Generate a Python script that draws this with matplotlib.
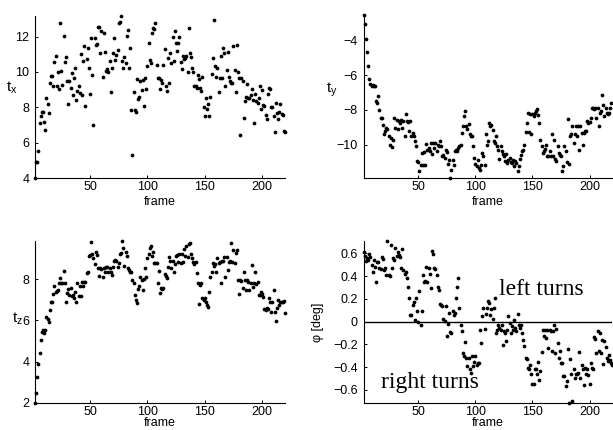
import numpy as np
import matplotlib
matplotlib.use('Agg')
import matplotlib.pyplot as plt
from matplotlib.ticker import FuncFormatter

plt.rcParams['font.family'] = ['Liberation Sans', 'DejaVu Sans']
plt.rcParams['font.size'] = 9
plt.rcParams['axes.unicode_minus'] = True

# translation / rotation estimates per frame
tx = [4.0, 4.9, 4.9, 5.54, 7.1, 7.48, 7.71, 7.71, 7.16, 6.73,
      8.55, 8.18, 7.67, 9.36, 9.78, 9.78, 9.18, 10.59, 10.93, 9.21,
      10.02, 9.04, 12.79, 10.08, 9.27, 12.06, 10.59, 10.87, 9.51, 8.2,
      9.46, 9.08, 9.93, 8.7, 9.65, 10.21, 8.42, 8.95, 9.23, 8.8,
      11.02, 8.7, 10.63, 11.44, 8.08, 10.72, 11.38, 10.21, 8.74, 11.91,
      9.83, 7.0, 11.91, 11.53, 11.57, 12.53, 12.56, 11.06, 12.34, 9.74,
      12.19, 11.15, 10.06, 10.17, 10.02, 10.63, 8.89, 10.21, 11.06, 11.91,
      10.68, 10.96, 11.25, 12.79, 12.85, 13.17, 10.63, 10.21, 10.87, 10.49, 12.06,
      12.38, 10.21, 11.34, 7.86, 5.31, 8.89, 7.86, 7.73, 9.59, 8.46,
      8.61, 9.46, 8.99, 9.55, 8.08, 9.65, 9.02, 10.31, 11.66, 10.68,
      10.53, 12.19, 12.51, 12.41, 12.79, 10.4, 9.68, 9.68, 9.02, 9.55,
      9.36, 10.4, 11.28, 9.21, 8.93, 10.78, 9.4, 11.06, 10.49, 12.0,
      10.63, 12.32, 11.66, 11.21, 11.62, 12.0, 10.59, 10.17, 10.91, 10.72,
      10.78, 10.91, 10.02, 12.47, 11.06, 10.87, 10.2, 9.97, 9.21, 9.18, 9.12, 9.83, 9.6,
      9.12, 8.93, 9.7, 8.04, 7.48, 8.55, 7.89, 8.2, 7.48,
      8.61, 9.89, 10.81, 12.94, 10.34, 9.74, 10.21, 8.84, 9.65, 10.91,
      9.68, 11.34, 11.06, 9.21, 10.12, 11.11, 9.7, 9.46, 9.4, 9.4,
      11.44, 10.12, 8.84, 11.53, 10.0, 9.68, 6.44, 9.65, 9.46, 7.39, 8.37,
      8.61, 9.31, 8.52, 8.55, 8.67, 9.02, 8.42, 7.14, 8.74, 8.33,
      8.27, 8.5, 9.21, 7.91, 8.99, 8.14, 8.08, 7.57, 7.35, 8.76, 9.12,
      9.02, 7.99, 7.99, 7.48, 6.58, 8.27, 7.67, 7.35, 7.71, 8.18,
      7.61, 7.54, 6.67, 6.6]

ty = [-2.51, -3.07, -3.94, -4.68, -5.45, -6.22, -6.51, -6.65, -6.57, -6.6, -6.65,
      -7.48, -7.58, -7.19, -8.0, -8.45, -8.45, -8.89, -9.38, -9.22, -9.03,
      -9.09, -9.51, -10.05, -9.61, -10.15, -9.71, -8.49, -9.03, -8.58, -9.13,
      -8.64, -8.74, -8.58, -9.03, -8.64, -9.51, -8.26, -8.64, -8.7, -9.22,
      -8.64, -9.51, -9.36, -9.51, -9.8, -10.09, -10.96, -11.0, -11.54, -11.2, -10.48,
      -11.16, -10.44, -11.16, -9.94, -10.29, -10.19, -10.38, -9.9, -10.52, -9.9,
      -10.19, -9.9, -10.38, -10.0, -10.09, -9.8, -10.09, -10.67, -10.58, -10.77,
      -10.33, -10.44, -11.1, -10.87, -11.93, -11.49, -10.91, -11.16, -10.38, -10.29,
      -10.38, -10.19, -10.09, -10.05, -9.32, -8.93, -8.35, -8.06, -8.93, -9.13,
      -8.84, -9.42, -9.51, -9.51, -10.09, -10.77, -11.1, -11.21, -10.87, -11.35,
      -11.49, -11.16, -10.48, -10.67, -11.16, -9.42, -10.05, -9.8, -8.74, -8.93,
      -8.89, -9.16, -9.8, -9.9, -9.51, -10.09, -10.29, -10.83, -10.09, -10.38,
      -10.52, -10.67, -10.96, -10.52, -11.06, -10.87, -10.77, -11.02, -11.06, -10.87,
      -11.25, -10.96, -11.06, -11.54, -11.25, -10.83, -10.63, -10.38, -10.29, -10.0,
      -9.28, -8.74, -8.2, -9.28, -8.26, -9.42, -8.26, -8.35, -8.16, -8.06,
      -7.93, -8.3, -8.74, -9.74, -10.09, -10.48, -10.38, -10.25, -10.0, -10.67, -10.67,
      -10.38, -10.67, -9.42, -10.67, -9.74, -10.83, -10.96, -10.09, -10.48, -10.58,
      -10.67, -11.54, -11.25, -10.09, -10.38, -11.02, -8.55, -11.1, -9.51, -9.42,
      -8.93, -9.9, -9.42, -8.93, -9.51, -8.93, -10.29, -8.93, -9.32, -10.0,
      -9.32, -9.22, -9.22, -8.64, -8.74, -8.7, -8.45, -7.87, -7.87, -7.97,
      -7.87, -8.45, -7.87, -8.93, -8.16, -8.06, -7.15, -7.73, -8.35, -7.87,
      -8.16, -8.26, -8.16, -7.9, -7.58]

tz = [2.0, 2.46, 3.24, 3.87, 4.4, 5.05, 5.46, 5.54, 5.37, 5.54,
      6.18, 6.07, 5.94, 6.51, 6.88, 6.91, 7.27, 7.69, 7.37, 7.43,
      7.48, 7.81, 8.08, 7.81, 7.81, 8.41, 7.81, 6.88, 7.32, 7.53,
      7.24, 7.56, 7.19, 7.24, 7.11, 7.37, 6.88, 7.81, 7.19, 7.69,
      7.19, 7.89, 7.69, 7.89, 7.89, 8.29, 8.34, 9.15, 9.18, 9.8,
      9.22, 9.05, 8.73, 9.31, 9.18, 8.53, 8.18, 8.53, 8.5, 8.13,
      8.53, 8.34, 8.62, 8.62, 8.34, 8.57, 8.34, 8.21, 8.62, 8.89,
      8.94, 8.89, 8.62, 8.78, 9.22, 9.26, 9.86, 9.54, 8.66, 9.35,
      9.15, 8.53, 8.45, 8.34, 8.34, 7.97, 7.81, 7.24, 7.0, 6.83,
      7.53, 7.69, 8.13, 7.97, 7.48, 8.02, 8.57, 8.13, 9.05, 9.22,
      9.51, 9.64, 9.15, 9.31, 8.78, 8.78, 8.78, 7.81, 8.41, 7.32,
      7.56, 7.53, 7.6, 8.24, 8.18, 8.08, 8.62, 9.1, 8.89, 8.53,
      8.89, 8.34, 8.73, 9.15, 9.18, 8.86, 9.22, 8.78, 9.22, 8.86,
      9.47, 9.15, 9.64, 9.1, 9.7, 9.75, 9.22, 9.05, 8.86, 8.73,
      8.83, 8.29, 7.81, 6.78, 7.72, 7.81, 7.11, 7.0, 7.11, 6.88,
      6.75, 6.67, 7.37, 8.13, 8.37, 8.78, 8.66, 8.73, 8.37, 9.05,
      8.78, 8.86, 7.81, 8.89, 8.89, 9.1, 8.13, 9.1, 8.45, 8.86,
      8.89, 9.75, 8.86, 9.43, 8.78, 9.26, 9.43, 7.97, 7.27, 7.97,
      7.92, 7.56, 8.37, 7.97, 7.48, 7.97, 7.89, 7.48, 7.81, 8.7,
      7.64, 7.81, 8.34, 7.76, 7.89, 7.24, 7.24, 7.37, 7.27, 7.16,
      6.56, 6.51, 6.59, 6.56, 7.11, 6.88, 6.43, 6.88, 7.48, 6.43,
      5.97, 6.62, 7.0, 6.75, 6.88, 6.88, 6.91, 6.94, 6.38]

phi = [0.615, 0.58, 0.533, 0.556, 0.542, 0.591, 0.571, 0.498,
       0.44, 0.542, 0.483, 0.352, 0.521, 0.527, 0.469, 0.463, 0.571, 0.55,
       0.454, 0.469, 0.41, 0.708, 0.41, 0.402, 0.673, 0.469, 0.562, 0.542,
       0.644, 0.58, 0.615, 0.585, 0.571, 0.475, 0.635, 0.454, 0.416, 0.434,
       0.387, 0.308, 0.206, 0.061, 0.061, 0.148, 0.171, 0.017, 0.206,
       0.09, -0.003, 0.265, -0.027, 0.09, 0.41, 0.352, 0.358, 0.483, 0.346,
       0.469, 0.416, 0.294, 0.62, 0.591, 0.469, 0.463, 0.41, 0.3, 0.279,
       0.154, 0.148, 0.134, 0.026, 0.008, 0.134, -0.129, -0.021, 0.075, -0.091,
       -0.1, 0.096, 0.061, 0.075, 0.206, 0.308, 0.387, 0.119, -0.027, -0.079,
       -0.275, -0.304, -0.181, -0.318, -0.391, -0.318, -0.412, -0.45, -0.304, -0.391,
       -0.353, -0.304, -0.377, -0.362, -0.362, -0.071, -0.187, 0.046, 0.119, -0.062,
       0.066, 0.119, 0.177, 0.163, 0.061, 0.113, 0.026, 0.119, 0.206, -0.1,
       -0.071, -0.027, -0.056, -0.071, -0.027, -0.208, -0.085, -0.1, -0.167, -0.071,
       0.046, -0.012, -0.1, -0.041, -0.071, 0.017, -0.056, -0.085, 0.066, -0.027,
       -0.056, -0.027, -0.1, -0.158, -0.216, -0.318, -0.324, -0.406, -0.412, -0.377,
       -0.464, -0.552, -0.552, -0.412, -0.412, -0.458, -0.353, -0.517, -0.435, -0.266,
       -0.071, -0.129, -0.071, -0.143, -0.071, -0.231, -0.071, -0.079, -0.26, -0.079,
       -0.027, -0.275, -0.062, -0.187, -0.318, -0.26, -0.362, -0.362, -0.479, -0.479,
       -0.566, -0.523, -0.237, -0.712, -0.324, -0.464, -0.697, -0.412, -0.499, -0.464,
       -0.464, -0.45, -0.266, -0.493, -0.377, -0.42, -0.557, -0.406, -0.464, -0.412,
       -0.47, -0.552, -0.362, -0.406, -0.412, -0.138, -0.149, -0.275, -0.079,
       -0.26, -0.1, -0.275, -0.158, -0.371, -0.167, -0.225, -0.318, -0.347, -0.295,
       -0.333, -0.362, -0.382]

first_frame = 2
last_frame = 220
xticks = [50, 100, 150, 200]
tx_ticks = [4, 6, 8, 10, 12]
ty_ticks = [-10, -8, -6, -4]
tz_ticks = [2, 4, 6, 8]
phi_ticks = [-0.6, -0.4, -0.2, 0, 0.2, 0.4, 0.6]


def frames_for(vals):
    return np.arange(first_frame, first_frame + len(vals))


def style_axis(ax, vals, yticks, xlabel_y=-0.145):
    # matlab look: box off, ticks inside, axis tight
    ax.plot(frames_for(vals), vals, 'o', color='k', ms=2.7, mew=0, clip_on=False)
    ax.set_xlim(first_frame, last_frame)
    ax.set_ylim(min(vals), max(vals))
    ax.set_xticks(xticks)
    ax.set_yticks(yticks)
    ax.yaxis.set_major_formatter(FuncFormatter(lambda v, p: ('%g' % v).replace('-', '\u2212')))
    for s in ['top', 'right']:
        ax.spines[s].set_visible(False)
    for s in ['left', 'bottom']:
        ax.spines[s].set_linewidth(0.8)
    ax.tick_params(direction='in', length=2.5, width=0.7, labelsize=9)
    ax.tick_params(axis='x', pad=2.5)
    ax.tick_params(axis='y', pad=4)
    ax.set_xlabel('frame', fontsize=9)
    ax.xaxis.label.set_va('center')
    ax.xaxis.set_label_coords(0.5, xlabel_y)


fig = plt.figure(figsize=(6.13, 4.3), dpi=100)

ax1 = fig.add_axes([0.057, 0.586, 0.408, 0.377])
style_axis(ax1, tx, tx_ticks)
ax1.set_ylabel(r'$\mathregular{t_x}$', rotation=0, fontsize=11, va='center', ha='center')
ax1.yaxis.set_label_coords(-0.092, 0.555)

ax2 = fig.add_axes([0.593, 0.586, 0.406, 0.380])
style_axis(ax2, ty, ty_ticks)
ax2.set_ylabel(r'$\mathregular{t_y}$', rotation=0, fontsize=11, va='center', ha='center')
ax2.yaxis.set_label_coords(-0.127, 0.54)

# bottom row: "frame" sits right at the lower edge of the figure
ax3 = fig.add_axes([0.057, 0.0635, 0.408, 0.376])
style_axis(ax3, tz, tz_ticks, xlabel_y=-0.128)
ax3.set_ylabel(r'$\mathregular{t_z}$', rotation=0, fontsize=11, va='center', ha='center')
ax3.yaxis.set_label_coords(-0.07, 0.518)

ax4 = fig.add_axes([0.593, 0.0635, 0.406, 0.376])
style_axis(ax4, phi, phi_ticks, xlabel_y=-0.128)
ax4.axhline(0, color='k', lw=1.0)
ax4.set_ylabel('\u03c6 [deg]', fontsize=9, va='center', ha='center')
ax4.yaxis.set_label_coords(-0.183, 0.5)
ax4.text(121, 0.23, 'left turns', family='Liberation Serif', fontsize=17)
ax4.text(17.5, -0.587, 'right turns', family='Liberation Serif', fontsize=17)

fig.savefig('out.png', dpi=100)
